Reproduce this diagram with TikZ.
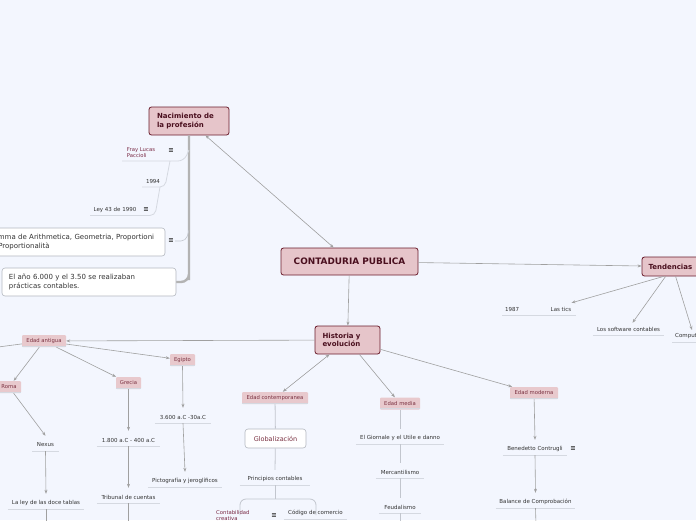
\documentclass[tikz,border=0pt]{standalone}
\usepackage{fontspec}
\setmainfont{DejaVu Sans}
\usetikzlibrary{arrows.meta,calc}
\definecolor{bg}{HTML}{F3F6FE}
\definecolor{mainfill}{HTML}{E6C5CA}
\definecolor{mainborder}{HTML}{6A1C2C}
\definecolor{maintext}{HTML}{4A0F1E}
\definecolor{subfill}{HTML}{E8C9CD}
\definecolor{subtext}{HTML}{7A3040}
\definecolor{leaftext}{HTML}{333333}
\definecolor{maroon}{HTML}{7A2A45}
\definecolor{arrgray}{HTML}{A0A0A0}
\definecolor{linegray}{HTML}{C2C6CE}
\definecolor{ulgray}{HTML}{D5D9E1}
\definecolor{boxborder}{HTML}{B4B8C0}
\definecolor{trunk}{HTML}{B3B3B3}
\begin{document}
\begin{tikzpicture}[x=1pt,y=-1pt,
  mainbox/.style={draw=mainborder,fill=mainfill,rounded corners=2.5pt,line width=0.8pt,
    font=\fontsize{7}{8.5}\selectfont\bfseries,text=maintext,inner sep=0pt},
  subbox/.style={fill=subfill,rounded corners=1pt,font=\fontsize{5.3}{6}\selectfont,
    text=subtext,inner sep=0pt,minimum height=12pt},
  leaf/.style={font=\fontsize{5.5}{6.5}\selectfont,text=leaftext,inner sep=0pt,minimum height=12pt},
  mleaf/.style={font=\fontsize{5.3}{6.5}\selectfont,text=maroon,align=left,inner sep=0pt},
  wbox/.style={draw=boxborder,fill=white,rounded corners=3pt,line width=0.6pt,
    font=\fontsize{7}{9}\selectfont,text=leaftext,inner sep=0pt},
  icon/.style={font=\fontsize{6.5}{6.5}\selectfont\bfseries,text=black!80,inner sep=0pt},
  uline/.style={draw=ulgray,line width=0.8pt},
  arr/.style={draw=arrgray,line width=0.6pt,-{Stealth[length=4pt,width=3pt]}},
  darr/.style={draw=arrgray,line width=0.6pt,{Stealth[length=4pt,width=3pt]}-{Stealth[length=4pt,width=3pt]}},
  plain/.style={draw=linegray,line width=0.8pt},
  trunkline/.style={draw=trunk,line width=2.4pt,rounded corners=8pt}
]
\path[fill=bg] (0,0) rectangle (696,520);
\useasboundingbox (0,0) rectangle (696,520);
\clip (0,0) rectangle (696,520);

% ---- main nodes
\node[mainbox,minimum width=137pt,minimum height=27pt,font=\fontsize{8.9}{9}\selectfont\bfseries] (cp) at (349.5,261.5) {CONTADURIA PUBLICA};
\node[mainbox,minimum width=80pt,minimum height=28pt,text width=64pt,align=left] (nac) at (189,121) {Nacimiento de\\la profesión};
\node[mainbox,minimum width=65pt,minimum height=28pt,text width=50pt,align=left] (hist) at (347.5,340) {Historia y\\evolución};
\node[mainbox,minimum width=65pt,minimum height=19pt,text width=52pt,align=left] (tend) at (674.5,266.5) {Tendencias};

% ---- Nacimiento branch
\draw[trunkline] (nac.south) -- (189,272) -- (189,282) -- (176,282);
\node[mleaf] (fray) at (141,152.5) {Fray Lucas\\Paccioli};
\node[icon] (fi) at (171,151) {≡};
\draw[uline,rounded corners=6pt] (122,161) -- (184,161) -- (189,150);
\node[leaf] (y1994) at (153,181) {1994};
\draw[uline,rounded corners=5pt] (142,187) -- (165,187) -- (170,161);
\node[leaf] (ley43) at (115,210) {Ley 43 de 1990};
\node[icon] (li) at (146,210) {≡};
\draw[uline,rounded corners=5pt] (90,215.5) -- (155,215.5) -- (160,187);
\node[wbox,minimum width=180pt,minimum height=28pt,text width=172pt,align=left] (summa) at (75,242) {Summa de Arithmetica, Geometria, Proportioni\\et Proportionalità};
\node[icon] (si) at (171,241) {≡};
\draw[linegray,line width=0.6pt,rounded corners=5pt] (175,241) -- (186,241) -- (189,230);
\node[wbox,minimum width=174pt,minimum height=28pt,text width=160pt,align=left] (anio) at (89,282) {El año 6.000 y el 3.50 se realizaban\\prácticas contables.};

% ---- top connectors
\draw[darr] (nac) -- (cp);
\draw[arr] (cp) -- (tend);
\draw[arr] (cp) -- (hist);

% ---- Tendencias branch
\node[leaf] (tics) at (561,309) {Las tics};
\node[leaf] (y1987) at (512,309) {1987};
\draw[uline] (502,315) -- (576,315);
\node[leaf,minimum width=71pt] (soft) at (628.5,329) {Los software contables};
\draw[uline] (soft.south west) -- (soft.south east);
\node[leaf,anchor=west] (comp) at (675,336) {Computadores};
\draw[uline] (672,342) -- (700,342);
\draw[arr] ([xshift=22pt]tend.south west) -- (tics.north east);
\draw[arr] ([xshift=24pt]tend.south west) -- ([xshift=4pt]soft.north);
\draw[arr] ([xshift=34pt]tend.south west) -- (692,330);
\coordinate (offr) at (720,282);
\draw[draw=arrgray,line width=0.6pt] (tend.south east) -- (offr);

% ---- Historia sub nodes
\node[subbox,minimum width=44pt] (ea) at (44,341) {Edad antigua};
\node[subbox,minimum width=25pt] (egipto) at (182.5,360) {Egipto};
\node[subbox,minimum width=24pt] (roma) at (9,387) {Roma};
\node[subbox,minimum width=25pt] (grecia) at (128.5,383) {Grecia};
\node[subbox,minimum width=66pt] (econt) at (275,398) {Edad contemporanea};
\node[subbox,minimum width=40pt] (emedia) at (400,403.5) {Edad media};
\node[subbox,minimum width=48pt] (emod) at (534,393) {Edad moderna};
\foreach \n in {ea,egipto,roma,grecia,econt,emedia,emod}
  \draw[uline,line width=0.6pt] ([yshift=1pt]\n.south west) -- ([yshift=1pt]\n.south east);

\draw[arr] (hist) -- (ea);
\draw[darr] (hist) -- (econt);
\draw[arr] (hist) -- (emedia);
\draw[arr] (hist) -- (emod);

% Edad antigua
\coordinate (offl1) at (-40,352);
\coordinate (offl2) at (-20,400);
\draw[draw=arrgray,line width=0.6pt] (ea) -- (offl1);
\draw[arr] (ea) -- (egipto);
\draw[arr] (ea) -- (grecia);
\draw[arr] (ea) -- (roma);
\draw[draw=arrgray,line width=0.6pt] (roma) -- (offl2);

\node[leaf,minimum width=26pt] (nexus) at (45.5,445) {Nexus};
\node[leaf,minimum width=76pt] (ley) at (46,503) {La ley de las doce tablas};
\node[leaf,minimum width=56pt] (t3600) at (183,417) {3.600 a.C -30a.C};
\node[leaf,minimum width=63pt] (t1800) at (128.5,440) {1.800 a.C - 400 a.C};
\node[leaf,minimum width=74pt] (picto) at (185,481) {Pictografía y jeroglíficos};
\node[leaf,minimum width=63pt] (trib) at (128.5,497) {Tribunal de cuentas};
\foreach \n in {nexus,ley,t3600,t1800,picto,trib}
  \draw[uline] (\n.south west) -- (\n.south east);

\draw[arr] (roma) -- ([yshift=3pt]nexus.north);
\draw[arr] (nexus.south) -- ([yshift=3pt]ley.north);
\coordinate (leyd) at (46,525);
\draw[draw=arrgray,line width=0.6pt] (ley.south) -- (leyd);
\draw[arr] (grecia.south) -- ([yshift=3pt]t1800.north);
\draw[arr] (t1800.south) -- ([yshift=3pt]trib.north);
\coordinate (tribd) at (128.5,525);
\draw[draw=arrgray,line width=0.6pt] (trib.south) -- (tribd);
\draw[arr] (egipto.south) -- ([yshift=3pt]t3600.north);
\draw[arr] (t3600.south) -- ([yshift=3pt]picto.north);

% Edad contemporanea
\node[draw=boxborder,fill=white,rounded corners=3pt,line width=0.6pt,font=\fontsize{6.5}{8}\selectfont,
  text=subtext,minimum width=61pt,minimum height=19pt,inner sep=0pt] (glob) at (275.5,438.5) {Globalización};
\node[leaf,minimum width=70pt] (princ) at (275,479) {Principios contables};
\draw[uline] (princ.south west) -- (princ.south east);
\draw[plain] (econt) -- (glob);
\draw[plain] (glob) -- ([yshift=3pt]princ.north);
\draw[plain] (princ.south) -- (275,499);
\draw[plain,rounded corners=6pt] (240,515) -- (240,499) -- (316,499) -- (316,515);
\node[mleaf,anchor=north west] (ccrea) at (216,510) {Contabilidad\\creativa};
\node[icon] (ci) at (274,516) {≡};
\node[leaf,minimum width=63pt] (codigo) at (315.5,513) {Código de comercio};
\draw[uline] (codigo.south west) -- (codigo.south east);

% Edad media
\node[leaf,minimum width=88pt] (giorn) at (400,438) {El Giornale y el Utile e danno};
\node[leaf,minimum width=48pt] (merc) at (400,472) {Mercantilismo};
\node[leaf,minimum width=42pt] (feud) at (400,507) {Feudalismo};
\foreach \n in {giorn,merc,feud}
  \draw[uline] (\n.south west) -- (\n.south east);
\draw[plain] (emedia) -- ([yshift=3pt]giorn.north);
\draw[plain] (giorn.south) -- ([yshift=3pt]merc.north);
\draw[plain] (merc.south) -- ([yshift=3pt]feud.north);
\coordinate (feudd) at (400,525);
\draw[plain] (feud.south) -- (feudd);

% Edad moderna
\node[leaf,minimum width=64pt] (bene) at (535,449) {Benedetto Contrugli};
\node[icon] (bi) at (573,449) {≡};
\node[leaf,minimum width=79pt] (bal) at (535.5,502) {Balance de Comprobación};
\foreach \n in {bene,bal}
  \draw[uline] (\n.south west) -- (\n.south east);
\draw[arr] (emod) -- ([yshift=3pt]bene.north);
\draw[arr] (bene.south) -- ([yshift=3pt]bal.north);
\coordinate (bald) at (536,525);
\draw[draw=arrgray,line width=0.6pt] (bal.south) -- (bald);
\end{tikzpicture}
\end{document}
